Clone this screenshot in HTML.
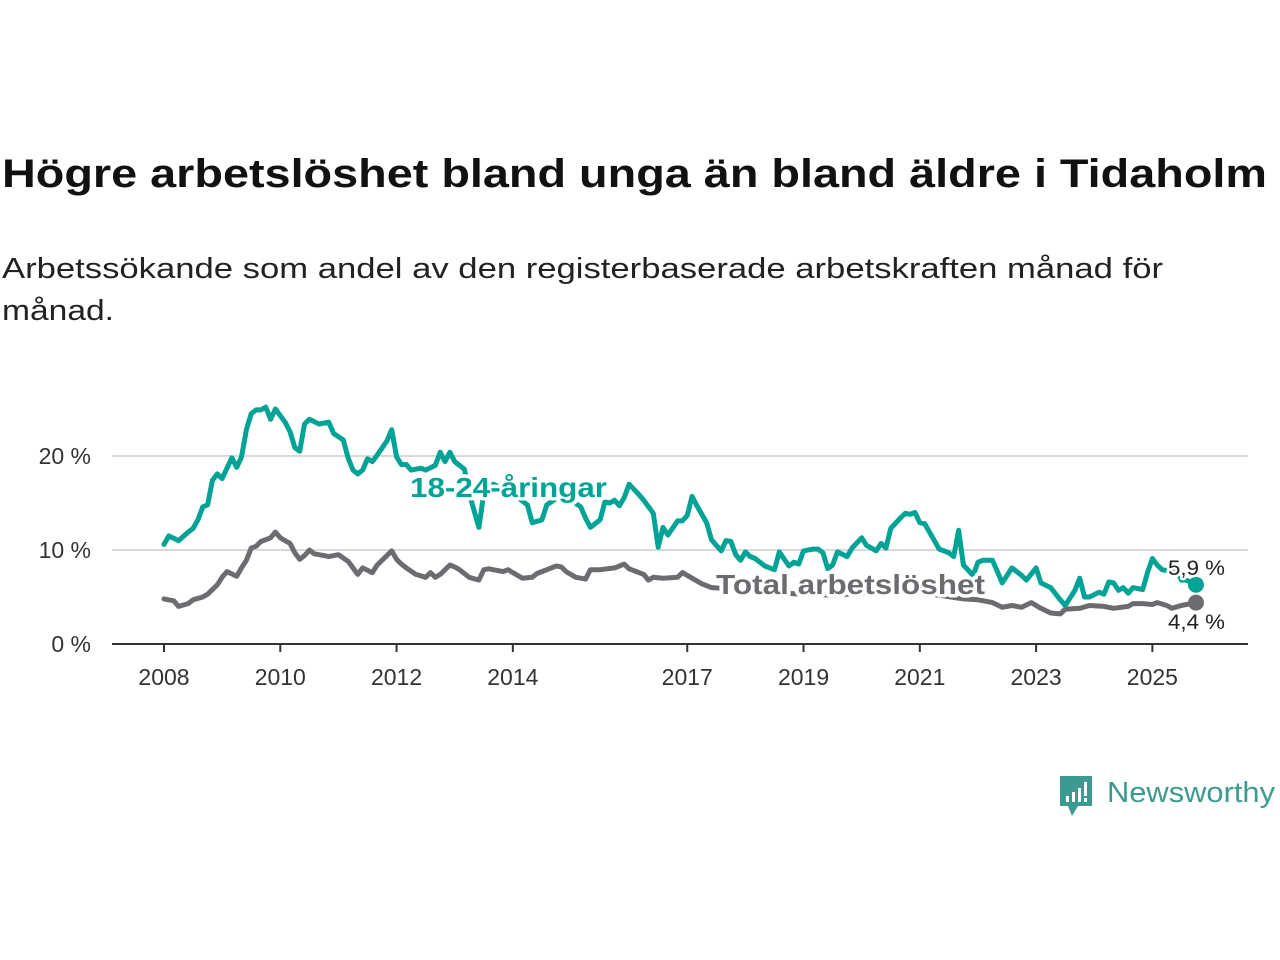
<!DOCTYPE html>
<html><head><meta charset="utf-8"><style>
html,body{margin:0;padding:0;background:#fff;}
svg{display:block;font-family:"Liberation Sans",sans-serif;}
</style></head><body>
<svg id="chart" width="1280" height="960" viewBox="0 0 1280 960">
<text x="2" y="187" font-size="40" font-weight="bold" fill="#111" textLength="1265" lengthAdjust="spacingAndGlyphs">Högre arbetslöshet bland unga än bland äldre i Tidaholm</text>
<text x="2" y="278" font-size="29" fill="#222" textLength="1161" lengthAdjust="spacingAndGlyphs">Arbetssökande som andel av den registerbaserade arbetskraften månad för</text>
<text x="2" y="320" font-size="29" fill="#222" textLength="112" lengthAdjust="spacingAndGlyphs">månad.</text>
<g id="grid"></g><g id="axes"></g><g id="lines"></g><g id="labels"></g>
<g>
<path d="M1060 776 h32 v30 h-14 l-6 10 l-4 -10 h-8 z" fill="#3d9a90"/>
<rect x="1066" y="796" width="3" height="6" fill="#fff"/><rect x="1072" y="792" width="3" height="10" fill="#fff"/><rect x="1078" y="788" width="3" height="14" fill="#fff"/><rect x="1084" y="782" width="3" height="14" fill="#fff"/><rect x="1084" y="798" width="3" height="4" fill="#fff"/>
<text x="1107" y="802" font-size="29" fill="#3d9a90" textLength="168" lengthAdjust="spacingAndGlyphs">Newsworthy</text>
</g>
</svg>
<script>
const youngMonths=[0,1,3,5,6,7,8,9,10,11,12,14,15,16,17,18,19,20,21,22,23,25,26,27,28,29,30,32,34,35,37,38,39,40,41,42,43,44,46,47,48,49,50,51,53,54,56,57,58,59,60,62,63,65,66,68,70,72,73,75,76,78,79,81,83,84,86,87,88,90,91,92,93,94,95,96,98,99,101,102,103,104,106,107,108,109,110,112,113,115,116,117,118,119,120,121,122,124,126,127,129,130,131,132,134,135,136,137,138,139,141,142,144,145,146,147,148,149,150,152,153,154,155,156,157,159,160,161,162,163,164,165,167,168,169,171,173,175,177,178,180,181,183,185,186,188,189,190,191,193,194,195,196,197,198,199,200,202,203,204,205,206,208,209,210,211,213];
const youngValues=[10.6,11.5,11.0,11.9,12.3,13.2,14.6,14.8,17.4,18.1,17.6,19.8,18.8,19.9,22.8,24.5,24.9,24.9,25.2,23.9,25.0,23.6,22.6,20.9,20.5,23.4,23.9,23.4,23.6,22.4,21.7,19.8,18.5,18.1,18.5,19.7,19.4,20.1,21.6,22.8,19.9,19.1,19.1,18.5,18.7,18.5,19.0,20.4,19.4,20.4,19.4,18.6,16.0,12.4,16.0,17.0,16.5,16.0,15.6,14.8,12.9,13.2,14.8,15.5,15.8,15.3,14.6,13.4,12.4,13.2,15.1,15.0,15.3,14.7,15.6,17.0,15.9,15.3,13.9,10.3,12.4,11.6,13.1,13.1,13.7,15.7,14.7,12.9,11.1,9.9,11.0,10.9,9.5,8.9,9.8,9.3,9.1,8.3,7.9,9.8,8.3,8.7,8.5,9.9,10.1,10.1,9.7,8.0,8.4,9.8,9.3,10.2,11.3,10.5,10.2,9.9,10.7,10.2,12.3,13.4,13.9,13.8,14.0,12.9,12.8,11.0,10.1,9.9,9.7,9.3,12.1,8.4,7.3,8.7,8.9,8.9,6.5,8.1,7.3,6.8,8.1,6.5,6.0,4.7,4.1,5.7,7.0,5.0,5.0,5.5,5.3,6.6,6.5,5.7,6.0,5.4,6.0,5.8,7.6,9.1,8.4,7.9,7.7,7.9,6.8,6.8,6.3,5.9];
const totalMonths=[0,2,3,5,6,8,9,11,12,13,15,16,17,18,19,20,22,23,24,26,27,28,29,30,31,33,34,36,38,39,40,41,43,44,46,47,48,49,50,52,54,55,56,57,59,60,61,63,65,66,67,70,71,72,74,76,77,79,81,82,83,85,87,88,90,93,95,96,99,100,101,103,106,107,109,111,113,119,125,132,138,144,150,156,165,168,171,173,175,177,179,181,183,185,186,189,191,194,196,199,200,202,204,205,207,208,210,212,213];
const totalValues=[4.8,4.6,4.0,4.3,4.7,5.0,5.3,6.3,7.1,7.7,7.2,8.1,8.9,10.2,10.4,10.9,11.3,11.9,11.3,10.7,9.7,9.0,9.4,10.0,9.6,9.4,9.3,9.5,8.8,8.1,7.4,8.1,7.6,8.4,9.4,9.9,9.0,8.5,8.1,7.4,7.1,7.6,7.1,7.4,8.4,8.2,7.9,7.1,6.8,7.9,8.0,7.7,7.9,7.6,7.0,7.1,7.5,7.9,8.3,8.2,7.7,7.1,6.9,7.9,7.9,8.1,8.5,8.0,7.4,6.8,7.1,7.0,7.1,7.6,7.0,6.4,6.0,5.8,5.5,5.3,5.2,5.4,5.6,5.5,4.8,4.7,4.4,3.9,4.1,3.9,4.4,3.8,3.3,3.2,3.7,3.8,4.1,4.0,3.8,4.0,4.3,4.3,4.2,4.4,4.1,3.8,4.1,4.3,4.4];
const yTicks=[0,10,20];
const yTickLabels=["0 %","10 %","20 %"];
const xTickYears=[2008,2010,2012,2014,2017,2019,2021,2023,2025];

const NS="http://www.w3.org/2000/svg";
const X0=164,PXM=4.845,Y0=644,PXV=9.4;
const xs=m=>X0+m*PXM, ys=v=>Y0-v*PXV;
function mk(tag,attrs,parent,text){const e=document.createElementNS(NS,tag);for(const k in attrs)e.setAttribute(k,attrs[k]);if(text!==undefined)e.textContent=text;parent.appendChild(e);return e;}
const grid=document.getElementById('grid'),axes=document.getElementById('axes'),lines=document.getElementById('lines'),labels=document.getElementById('labels');
yTicks.forEach((t,i)=>{
  if(t>0){const g=mk('line',{x1:112,x2:1248,y1:ys(t),y2:ys(t),stroke:'#d9d9d9','stroke-width':2},grid);
  
  }
  const l=mk('text',{x:91,y:ys(t)+8,'font-size':23,fill:'#333','text-anchor':'end'},axes,yTickLabels[i]);
  
  
});
const base=mk('line',{x1:112,x2:1248,y1:Y0,y2:Y0,stroke:'#333','stroke-width':2},axes);


xTickYears.forEach(y=>{
  const x=xs((y-2008)*12);
  const tk=mk('line',{x1:x,x2:x,y1:Y0,y2:Y0+8,stroke:'#333','stroke-width':2},axes);
  
  
  const t=mk('text',{x:x,y:685,'font-size':23,fill:'#333','text-anchor':'middle'},axes,String(y));
  
  
});
function line(ms,vs,color,name){
  const d=ms.map((m,i)=>(i?'L':'M')+xs(m).toFixed(1)+' '+ys(vs[i]).toFixed(1)).join(' ');
  const p=mk('path',{d:d,fill:'none',stroke:color,'stroke-width':5,'stroke-linejoin':'round','stroke-linecap':'round'},lines);
  
  
  const n=ms.length-1;
  const c=mk('circle',{cx:xs(ms[n]),cy:ys(vs[n]),r:8,fill:color},lines);
  
  
}
line(totalMonths,totalValues,'#6d6b70','total-line');
line(youngMonths,youngValues,'#00a396','young-line');
function lab(x,y,txt,color,size,bold,name,anchor,len){
  const a={x:x,y:y,'font-size':size,'font-weight':bold?'bold':'normal',fill:color,stroke:'#fff','stroke-width':bold?7:5,'paint-order':'stroke','stroke-linejoin':'round','text-anchor':anchor||'start'};
  if(len){a.textLength=len;a.lengthAdjust='spacingAndGlyphs';}
  const t=mk('text',a,labels,txt);
  
  
}
lab(410,497,'18-24-åringar','#00a396',28,true,'young-series-label','start',197);
lab(716,594,'Total arbetslöshet','#6d6b70',28,true,'total-series-label','start',269);
lab(1225,575,'5,9 %','#222',21,false,'young-end-value','end',57);
lab(1225,629,'4,4 %','#222',21,false,'total-end-value','end',57);
</script>
</body></html>
